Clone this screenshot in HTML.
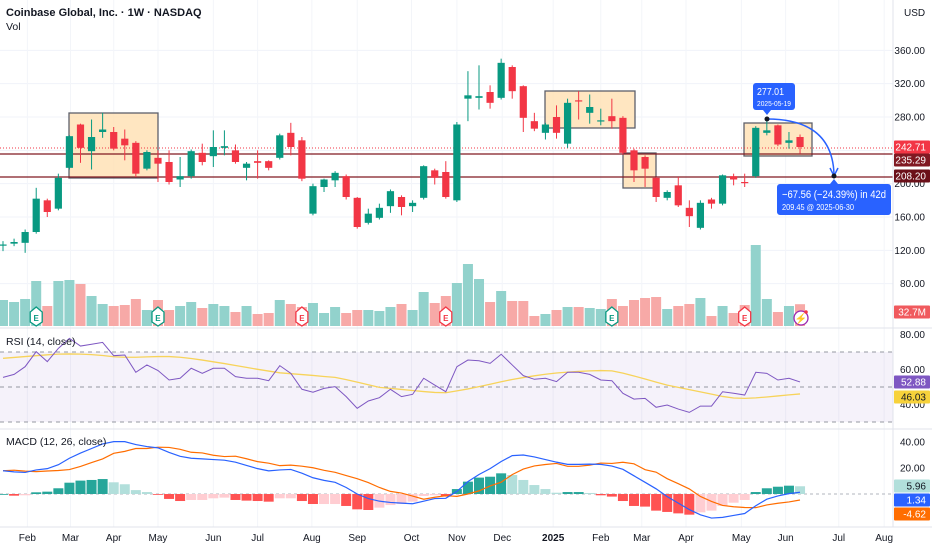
<!DOCTYPE html>
<html><head><meta charset="utf-8">
<style>
html,body{margin:0;padding:0;background:#fff;}
svg{display:block;font-family:"Liberation Sans",sans-serif;}
</style></head>
<body>
<svg id="chart" width="932" height="550" viewBox="0 0 932 550" xmlns="http://www.w3.org/2000/svg">
<g id="grid"></g>
<g id="boxes">
  <rect x="69" y="113" width="89" height="65" fill="#ffe0b2" fill-opacity="0.8" stroke="#5d606b" stroke-width="1.3"/>
  <rect x="545" y="91" width="90" height="37" fill="#ffe0b2" fill-opacity="0.8" stroke="#5d606b" stroke-width="1.3"/>
  <rect x="623" y="153" width="33" height="35" fill="#ffe0b2" fill-opacity="0.8" stroke="#5d606b" stroke-width="1.3"/>
  <rect x="744" y="123" width="68" height="33" fill="#ffe0b2" fill-opacity="0.8" stroke="#5d606b" stroke-width="1.3"/>
</g>
<g id="hlines">
  <line x1="0" x2="893" y1="148" y2="148" stroke="#f23645" stroke-width="1" stroke-dasharray="1,2"/>
  <line x1="0" x2="893" y1="154" y2="154" stroke="#801922" stroke-width="1.2"/>
  <line x1="0" x2="893" y1="177" y2="177" stroke="#801922" stroke-width="1.2"/>
</g>
<g id="vol"></g>
<g id="candles"></g>
<g id="events"></g>
<g id="rsi"></g>
<g id="macd"></g>
<g id="axes"></g>
<g>
  <path d="M767,119 Q832,119 834,174" fill="none" stroke="#2962ff" stroke-width="1.5"/>
  <path d="M830,168 L834,176 L838,168" fill="none" stroke="#2962ff" stroke-width="1.5"/>
  <circle cx="767" cy="119" r="2.5" fill="#131722"/>
  <circle cx="834" cy="176" r="2.5" fill="#131722"/>
  <rect x="753" y="83" width="42" height="27" rx="3" fill="#2962ff"/>
  <path d="M763,110 L767,115 L771,110 Z" fill="#2962ff"/>
  <text x="757" y="95" font-size="10" fill="#fff" textLength="27" lengthAdjust="spacingAndGlyphs">277.01</text>
  <text x="757" y="106" font-size="7.5" fill="#fff" textLength="34" lengthAdjust="spacingAndGlyphs">2025-05-19</text>
  <rect x="777" y="184" width="114" height="31" rx="3" fill="#2962ff"/>
  <path d="M830,184 L834,179 L838,184 Z" fill="#2962ff"/>
  <text x="782" y="198" font-size="11" fill="#fff" textLength="104" lengthAdjust="spacingAndGlyphs">−67.56 (−24.39%) in 42d</text>
  <text x="782" y="210" font-size="8" fill="#fff" textLength="72" lengthAdjust="spacingAndGlyphs">209.45 @ 2025-06-30</text>
</g>
<g>
  <text x="6" y="16" font-size="11" font-weight="bold" fill="#131722">Coinbase Global, Inc. · 1W · NASDAQ</text>
  <text x="6" y="30" font-size="10.5" fill="#131722">Vol</text>
  <text x="904" y="16" font-size="10" fill="#131722">USD</text>
  <text x="6" y="345" font-size="10.5" fill="#131722">RSI (14, close)</text>
  <text x="6" y="445" font-size="10.5" fill="#131722">MACD (12, 26, close)</text>
</g>
<g id="tags"></g>
</svg>
<script>
// ---- data ----
const openP  = [126,128,129,142,180,170,219,271,239,262,262,254,249,218,231,226,205,209,237,233,243,240,219,227,227,231,261,252,164,196,204,209,183,153,159,173,184,173,183,216,214,180,302,303,310,303,340,317,275,261,280,248,300,285,275,281,279,240,232,207,183,198,171,147,181,176,209,202,209,261,270,249,256];
const highP  = [131,134,145,195,182,212,258,272,277,285,268,265,251,240,240,240,232,241,248,264,264,247,226,240,228,260,273,256,200,206,215,211,184,170,176,193,186,180,222,218,227,274,335,342,318,350,342,318,285,273,294,302,311,307,290,302,281,242,234,208,192,208,180,180,183,211,212,212,269,278,271,262,259];
const lowP   = [119,125,117,140,160,168,217,225,217,255,240,228,208,216,202,199,196,206,222,220,234,224,204,206,216,229,234,203,162,190,196,181,146,151,157,165,162,166,181,199,182,178,275,289,290,301,302,262,263,253,254,243,277,272,270,266,235,202,196,178,180,172,148,145,170,174,198,196,207,258,245,242,236];
const closeP = [127,130,142,182,166,207,257,243,256,265,242,246,212,238,224,202,209,239,226,244,245,226,224,225,219,258,244,206,197,205,213,184,148,164,171,191,172,177,221,207,184,271,306,305,297,345,311,279,266,271,261,297,299,292,276,275,237,216,218,184,190,174,161,177,176,210,205,201,267,264,247,252,244];
const volumeM = [39,36,40.5,67.5,30,67.5,69,63,45,33,30,31.5,40.5,24,39,24,30,36,27,33,30,21,30,18,19.5,39,33,28.5,34.5,19.5,28.5,19.5,24,24,22.5,28.5,33,24,51,34.5,45,64.5,93,70.5,36,52.5,37.5,37.5,15,18,24,28.5,28.5,27,25.5,40.5,30,39,42,43.5,25.5,30,33,42,15,30,19.5,31.5,121.5,40.5,21,30,32.7];
const rsiVals = [55.5,57.2,61.6,70.2,64.5,72.1,77.8,73.4,74.4,75.5,67.9,68.3,58.4,62.6,59.4,54.0,55.0,60.7,57.8,60.7,60.7,55.9,55.0,55.0,53.6,62.2,57.8,48.7,47.0,49.2,50.2,44.5,37.8,42.0,43.9,48.7,44.5,45.8,55.0,51.1,47.3,61.6,65.4,65.0,63.5,68.7,62.6,56.5,54.4,55.0,53.1,58.4,58.4,57.2,54.0,53.6,46.4,43.1,43.5,38.4,39.7,37.4,35.5,39.1,39.1,47.3,46.4,45.4,58.4,57.8,54.0,55.0,52.88];
const rsiMA = [66.4,66.9,67.4,67.9,68.4,68.8,68.9,68.8,68.5,68.0,67.3,67.0,67.0,67.2,67.4,67.4,67.0,66.3,65.4,64.4,63.4,62.3,61.2,60.1,59.1,58.1,57.6,57.1,56.6,56.0,55.5,54.2,52.8,51.3,49.8,49.2,48.6,48.0,47.4,46.9,46.7,47.8,48.9,50.2,51.6,53.0,54.3,55.4,56.4,57.3,58.0,58.5,58.9,59.2,59.4,59.2,57.9,56.3,54.6,52.8,51.1,49.8,48.5,47.2,45.9,44.6,43.7,43.5,43.8,44.3,44.9,45.5,46.03];
const macdLine = [17.9,17.0,16.6,18.5,19.5,22.5,27.5,31.5,35,38.5,40.3,40.3,38,36.5,35.5,32,29,27.5,27,26.5,26,24.5,22,19.5,17.8,18.5,18.9,16,12.5,10.5,9,5,0,-3.5,-5.5,-6.5,-7,-7.5,-5.5,-3.5,-3.3,2,9.5,15,19.5,25,29.5,30,28.5,26.5,24.5,22.8,22.8,23,22.8,21.5,19,14,9,4,-2,-7,-12,-16,-18.5,-18,-16.5,-15,-9,-4,-1.5,0.3,1.34];
const macdHist = [0,-1.3,-1,1.3,1.8,4.4,8.7,10.3,10.8,11.5,9,7.5,3,1.5,-0.5,-3.8,-5.4,-4.6,-4.6,-3.3,-2.8,-4.6,-5.1,-5.4,-5.9,-3.3,-3.3,-5.4,-7.7,-7.7,-7.7,-9.2,-11.8,-12.3,-10.5,-8.5,-7.7,-5.9,-1.5,-1,-2,3.8,9.5,12.6,13.3,15.9,14.6,10.8,6.9,3.8,1,1.5,1.5,0.8,-1,-2,-5.4,-9.2,-9.7,-12.8,-13.8,-14.9,-15.9,-14.1,-12.8,-9.2,-6.7,-4.6,1.5,4.4,5.6,6.4,5.96];
const priceTicks = [360,320,280,200,160,120,80];
const priceGrid = [360,320,280,240,200,160,120,80];
const rsiTicks = [80,60,40];
const macdTicks = [40,20];
const monthLabels = ["Feb","Mar","Apr","May","Jun","Jul","Aug","Sep","Oct","Nov","Dec","2025","Feb","Mar","Apr","May","Jun","Jul","Aug"];
const monthIndex = [2.2,6.1,10.0,14.0,19.0,23.0,27.9,32.0,36.9,41.0,45.1,49.7,54.0,57.7,61.7,66.7,70.7,75.5,79.6];
const earningsIdx = [3,14,27,40,55,67];
const earningsBeat = [true,true,false,false,true,false];

// ---- scales ----
const NS='http://www.w3.org/2000/svg';
const xOf = i => 3 + i*11.07;
const yP = p => 117 + (280-p)*0.8333;
const yV = v => 326 - v/1.5;
const yR = v => 387 - (v-50)*1.75;
const yM = v => 494 - v*1.3;
function mk(tag, attrs, parent){const e=document.createElementNS(NS,tag);for(const k in attrs)e.setAttribute(k,attrs[k]);parent.appendChild(e);return e;}
const G=id=>document.getElementById(id);
const UP='#089981', DN='#f23645';

// grid
const grid=G('grid');
priceGrid.forEach(p=>{const l=mk('line',{x1:0,x2:893,y1:yP(p),y2:yP(p),stroke:'#f0f3fa'},grid);

});
monthIndex.forEach(m=>{const l=mk('line',{x1:xOf(m),x2:xOf(m),y1:0,y2:527,stroke:'#f3f5f9'},grid);

});

// volume
const vol=G('vol');
volumeM.forEach((v,i)=>{const up=closeP[i]>=openP[i];
const r=mk('rect',{x:xOf(i)-5,y:yV(v),width:10,height:326-yV(v),fill:up?'#92d2cc':'#f7a9a7'},vol);

});

// candles
const cg=G('candles');
openP.forEach((o,i)=>{const c=closeP[i],up=c>=o,col=up?UP:DN,x=xOf(i);
const g=mk('g',{},cg);


mk('line',{x1:x,x2:x,y1:yP(highP[i]),y2:yP(lowP[i]),stroke:col,'stroke-width':1},g);
const t=yP(Math.max(o,c)),b=yP(Math.min(o,c));
mk('rect',{x:x-3.6,y:t,width:7.2,height:Math.max(1.2,b-t),fill:col},g);});

// earnings markers
const ev=G('events');
earningsIdx.forEach((idx,k)=>{const x=xOf(idx),col=earningsBeat[k]?'#089981':'#f23645';
const g=mk('g',{},ev);


mk('path',{d:`M${x-6},${312} L${x},${307} L${x+6},${312} L${x+6},${322} L${x},${326} L${x-6},${322} Z`,fill:'#fff',stroke:col,'stroke-width':1.3},g);
const t=mk('text',{x:x,y:321,'font-size':8,'text-anchor':'middle',fill:col,'font-weight':'bold'},g);t.textContent='E';});
{const g=mk('g',{},ev);


mk('circle',{cx:801,cy:318,r:7,fill:'#fff',stroke:'#9c27b0','stroke-width':1.3},g);
const t=mk('text',{x:801,y:322,'font-size':10,'text-anchor':'middle',fill:'#7e57c2'},g);t.textContent='⚡';
mk('circle',{cx:806,cy:312,r:1.8,fill:'#f23645'},g);}

// panes separators
const ax=G('axes');
[[0,328,932,328],[0,429,932,429],[0,527,932,527],[893,0,893,527]].forEach(a=>{const l=mk('line',{x1:a[0],y1:a[1],x2:a[2],y2:a[3],stroke:'#e0e3eb'},ax);

});

// RSI pane
const rs=G('rsi');
mk('rect',{x:0,y:yR(70),width:893,height:yR(30)-yR(70),fill:'#7e57c2','fill-opacity':0.08},rs);
[70,50,30].forEach(v=>{const l=mk('line',{x1:0,x2:893,y1:yR(v),y2:yR(v),stroke:'#9598a1','stroke-dasharray':'4,4'},rs);

});
const pts=a=>a.map((v,i)=>`${xOf(i).toFixed(1)},${v}`).join(' ');
{const m=mk('polyline',{points:pts(rsiMA.map(yR)),fill:'none',stroke:'#f7d35a','stroke-width':1.3},rs);


const l=mk('polyline',{points:pts(rsiVals.map(yR)),fill:'none',stroke:'#7e57c2','stroke-width':1},rs);

}

// MACD pane
const mc=G('macd');
{const z=mk('line',{x1:0,x2:893,y1:yM(0),y2:yM(0),stroke:'#b2b5be','stroke-dasharray':'3,3'},mc);

}
macdHist.forEach((h,i)=>{const prev=i>0?macdHist[i-1]:0;let col;
if(h>=0)col=h>=prev?'#26a69a':'#b2dfdb';else col=h<prev?'#ff5252':'#ffcdd2';
const y0=yM(Math.max(h,0)),y1=yM(Math.min(h,0));
const r=mk('rect',{x:xOf(i)-5,y:y0,width:10,height:Math.max(0.8,y1-y0),fill:col},mc);

});
{const sig=macdLine.map((v,i)=>v-macdHist[i]);
const s=mk('polyline',{points:pts(sig.map(yM)),fill:'none',stroke:'#ff6d00','stroke-width':1.2},mc);


const l=mk('polyline',{points:pts(macdLine.map(yM)),fill:'none',stroke:'#2962ff','stroke-width':1.2},mc);

}

// axes labels
function lab(x,y,s,opts,name){const t=mk('text',Object.assign({x:x,y:y,'font-size':10,fill:'#131722'},opts||{}),ax);t.textContent=s;

return t;}
priceTicks.forEach(p=>lab(925,yP(p)+3.5,p.toFixed(2),{'text-anchor':'end'},'price-tick'));
rsiTicks.forEach(v=>lab(925,yR(v)+3.5,v.toFixed(2),{'text-anchor':'end'},'rsi-tick'));
macdTicks.forEach(v=>lab(925,yM(v)+3.5,v.toFixed(2),{'text-anchor':'end'},'macd-tick'));
monthLabels.forEach((m,k)=>lab(xOf(monthIndex[k]),541,m,{'text-anchor':'middle','font-weight':m==='2025'?'bold':'normal'},'time-tick'));

// price tags
const tg=G('tags');
function tag(y,s,bg,fg,name){const g=mk('g',{},tg);


mk('rect',{x:894,y:y-6.5,width:36,height:13,fill:bg,rx:1},g);
const t=mk('text',{x:926,y:y+3.5,'font-size':10,'text-anchor':'end',fill:fg},g);t.textContent=s;}
tag(147,'242.71','#f23645','#fff','last-price-tag');
tag(160,'235.29','#801922','#fff','level-235-tag');
tag(176,'208.20','#6b1019','#fff','level-208-tag');
tag(312,'32.7M','#f05a5e','#fff','volume-tag');
tag(382,'52.88','#7e57c2','#fff','rsi-value-tag');
tag(397,'46.03','#f7d23b','#131722','rsi-ma-tag');
tag(486,'5.96','#b2dfdb','#131722','macd-hist-tag');
tag(500,'1.34','#2962ff','#fff','macd-value-tag');
tag(514,'-4.62','#ff6d00','#fff','macd-signal-tag');
</script>
</body></html>
